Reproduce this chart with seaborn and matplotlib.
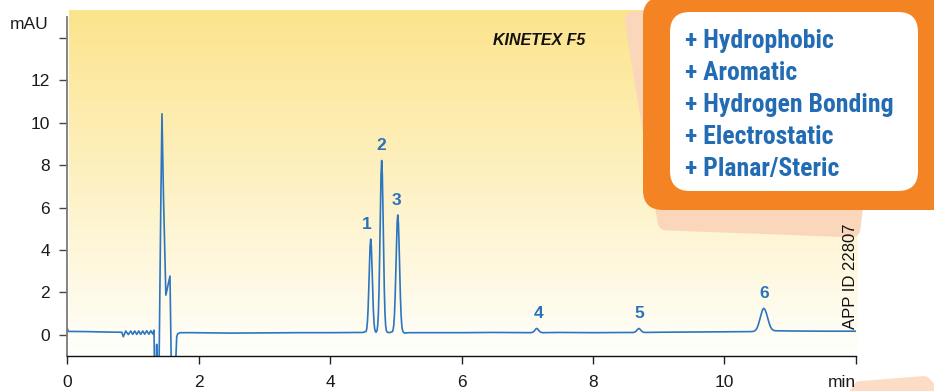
import matplotlib
matplotlib.use("Agg")
import numpy as np
import pandas as pd
import matplotlib.pyplot as plt
import seaborn as sns
from matplotlib.patches import FancyBboxPatch, Polygon

# ---- chromatogram trace: retention time (min) vs. UV response (mAU) ----
time_min = [
    0.000, 0.015, 0.300, 0.600, 0.830, 0.853, 0.889, 0.929, 0.965, 0.996,
    1.026, 1.057, 1.087, 1.117, 1.148, 1.178, 1.209, 1.243, 1.270, 1.300,
    1.320, 1.328, 1.352, 1.360, 1.368, 1.395, 1.424, 1.441, 1.465, 1.500,
    1.563, 1.585, 1.645, 1.655, 1.665, 1.680, 1.720, 1.900, 2.500, 3.000,
    3.500, 4.000, 4.500,
    # peak 1
    4.548, 4.558, 4.568, 4.578, 4.588, 4.598, 4.608, 4.618, 4.628, 4.638,
    4.648, 4.658, 4.668, 4.678, 4.688, 4.700,
    # peak 2
    4.715, 4.725, 4.735, 4.745, 4.755, 4.765, 4.775, 4.785, 4.795, 4.805,
    4.815, 4.825, 4.835, 4.845, 4.855, 4.870, 4.900,
    # peak 3
    4.950, 4.960, 4.970, 4.980, 4.990, 5.000, 5.010, 5.020, 5.030, 5.040,
    5.050, 5.060, 5.070, 5.080, 5.090, 5.100, 5.110, 5.130, 5.200,
    # baseline, peaks 4 and 5
    5.500, 6.000, 6.500, 7.000, 7.060, 7.090, 7.110, 7.130, 7.145, 7.160,
    7.180, 7.200, 7.230, 7.500, 8.000, 8.500, 8.615, 8.645, 8.665, 8.685,
    8.700, 8.715, 8.735, 8.755, 8.785, 9.000, 9.500, 10.000, 10.400,
    # peak 6
    10.440, 10.460, 10.480, 10.500, 10.520, 10.540, 10.560, 10.580, 10.600,
    10.620, 10.640, 10.660, 10.680, 10.700, 10.720, 10.750, 10.780, 11.000,
    11.500, 12.000,
]
response_mau = [
    0.30, 0.16, 0.15, 0.13, 0.12, -0.09, 0.18, 0.01, 0.18, 0.02,
    0.18, 0.02, 0.18, 0.02, 0.18, 0.03, 0.19, 0.03, 0.19, 0.04,
    0.22, -2.00, -2.00, -0.45, -2.00, -2.00, 6.36, 10.42, 6.36, 1.87,
    2.77, -2.00, -2.00, -0.90, -0.10, 0.05, 0.10, 0.10, 0.08, 0.09,
    0.10, 0.10, 0.11,
    0.16, 0.29, 0.60, 1.20, 2.12, 3.22, 4.14, 4.51, 4.14, 3.22,
    2.12, 1.20, 0.60, 0.29, 0.16, 0.12,
    0.21, 0.46, 1.03, 2.13, 3.82, 5.84, 7.55, 8.22, 7.55, 5.84,
    3.82, 2.13, 1.03, 0.46, 0.21, 0.12, 0.10,
    0.15, 0.25, 0.49, 0.97, 1.80, 2.95, 4.23, 5.26, 5.65, 5.26,
    4.23, 2.95, 1.80, 0.97, 0.49, 0.25, 0.15, 0.08, 0.10,
    0.10, 0.10, 0.11, 0.10, 0.10, 0.13, 0.19, 0.27, 0.30, 0.27,
    0.19, 0.13, 0.10, 0.11, 0.10, 0.11, 0.11, 0.14, 0.20, 0.27,
    0.30, 0.27, 0.20, 0.14, 0.11, 0.12, 0.13, 0.14, 0.15,
    0.16, 0.18, 0.23, 0.33, 0.50, 0.73, 0.97, 1.17, 1.25,
    1.18, 1.02, 0.80, 0.58, 0.40, 0.28, 0.21, 0.19, 0.18,
    0.17, 0.17,
]

# ---- numbered peaks ----
peak_ids = ["1", "2", "3", "4", "5", "6"]
peak_rt = [4.618, 4.785, 5.030, 7.145, 8.700, 10.600]
peak_height = [4.51, 8.22, 5.65, 0.30, 0.30, 1.25]
label_nudge_min = [-0.058, 0.0, -0.017, 0.025, 0.0, 0.0]

# ---- axis ticks ----
x_ticks = [0, 2, 4, 6, 8, 10, 12]
x_tick_labels = ["0", "2", "4", "6", "8", "10", "min"]
y_ticks = [0, 2, 4, 6, 8, 10, 12, 14]
y_tick_labels = ["0", "2", "4", "6", "8", "10", "12", ""]

# ---- interaction list ----
interactions = ["+ Hydrophobic", "+ Aromatic", "+ Hydrogen Bonding",
                "+ Electrostatic", "+ Planar/Steric"]

TRACE_BLUE = "#2C75C0"
LABEL_BLUE = "#2A72B9"
BOX_BLUE = "#236CB4"
ORANGE = "#F48423"
PEACH = "#FAD6BB"

sns.set_theme(style="ticks")
plt.rcParams["font.family"] = ["Liberation Sans", "DejaVu Sans"]

W, H = 934, 391
fig = plt.figure(figsize=(W / 100, H / 100), dpi=100)
fig.patch.set_facecolor("white")

# background layer in pixel units (y grows downward)
bg = fig.add_axes([0, 0, 1, 1], zorder=0)
bg.set_xlim(0, W)
bg.set_ylim(H, 0)
bg.axis("off")

top_rgb = np.array([252, 228, 140]) / 255.0
low_rgb = np.array([255, 255, 252]) / 255.0
g = np.linspace(0, 1, 256)[:, None]
ramp = top_rgb * (1 - g) + low_rgb * g
bg.imshow(ramp[:, None, :], extent=(69, 858, 356, 10), aspect="auto",
          interpolation="bilinear", zorder=0)

bg.add_patch(Polygon([(633, 20), (666, 222), (852, 229), (880, 0)],
                     closed=True, fc=PEACH, ec=PEACH, lw=12,
                     joinstyle="round", zorder=1))
bg.add_patch(Polygon([(852, 400), (860, 388), (924, 383), (940, 400)],
                     closed=True, fc="#FDDCC5", ec="#FDDCC5", lw=10,
                     joinstyle="round", zorder=1))

bg.add_patch(FancyBboxPatch((643, -3), 330, 213,
                            boxstyle="round,pad=0,rounding_size=20",
                            fc=ORANGE, ec="none", zorder=2))
bg.add_patch(FancyBboxPatch((670, 12), 248, 179,
                            boxstyle="round,pad=0,rounding_size=20",
                            fc="white", ec="none", zorder=3))
for i, line in enumerate(interactions):
    bg.text(685, 48.3 + 32.0 * i, line, ha="left", va="baseline",
            fontsize=18.5, fontweight="bold", color=BOX_BLUE,
            family=["Liberation Sans Narrow", "Roboto Condensed",
                    "Liberation Sans"], zorder=4)

bg.text(539, 40.5, "KINETEX F5", ha="center", va="center", fontsize=11.5,
        fontweight="bold", fontstyle="italic", color="#111111", zorder=4)
bg.text(850.5, 329, "APP ID 22807", rotation=90, ha="center", va="bottom",
        fontsize=12, color="#111111", zorder=4)

# chromatogram axes
ax = fig.add_axes([67.3 / W, 35.0 / H, (855.7 - 67.3) / W, (356.0 - 16.7) / H],
                  zorder=1)
ax.set_facecolor("none")

trace = pd.DataFrame({"time": time_min, "mAU": response_mau})
sns.lineplot(data=trace, x="time", y="mAU", ax=ax, color=TRACE_BLUE,
             linewidth=1.2, estimator=None, sort=False)

for pid, rt, h, dx in zip(peak_ids, peak_rt, peak_height, label_nudge_min):
    ax.text(rt + dx, h + 0.70, pid, ha="center", va="center",
            fontsize=12.5, fontweight="bold", color=LABEL_BLUE)

ax.set_xlim(0, 12)
ax.set_ylim(-1, 15)
ax.set_xticks(x_ticks)
ax.set_xticklabels(x_tick_labels)
ax.set_yticks(y_ticks)
ax.set_yticklabels(y_tick_labels)
ax.get_xticklabels()[-1].set_horizontalalignment("right")
ax.set_xlabel("")
ax.set_ylabel("")

ax.annotate("mAU", xy=(0, 14), xycoords="data", xytext=(-13.2, 9.6),
            textcoords="offset points", ha="right", va="center",
            fontsize=12.5, color="#1a1a1a", annotation_clip=False)

for side in ("top", "right"):
    ax.spines[side].set_visible(False)
ax.spines["left"].set_color("#7a7a7a")
ax.spines["left"].set_linewidth(1.3)
ax.spines["bottom"].set_color("#111111")
ax.spines["bottom"].set_linewidth(1.0)
ax.tick_params(axis="y", direction="out", length=5.5, width=1.0,
               color="#444444", pad=7, labelsize=12.5, labelcolor="#1a1a1a")
ax.tick_params(axis="x", direction="out", length=5.5, width=1.0,
               color="#222222", pad=8, labelsize=12.5, labelcolor="#1a1a1a")
ax.grid(False)

fig.savefig("out.png", dpi=100, facecolor="white")
